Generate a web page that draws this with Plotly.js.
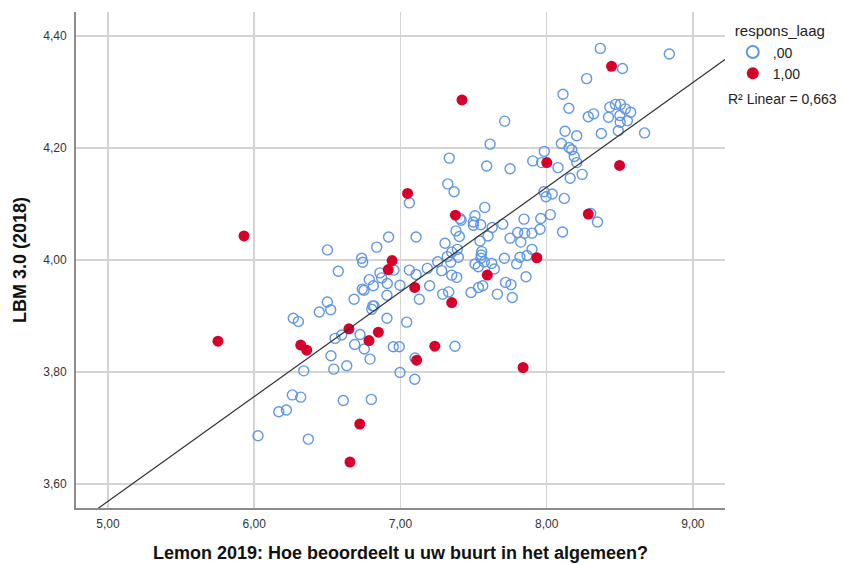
<!DOCTYPE html>
<html>
<head>
<meta charset="utf-8">
<script src="https://cdn.plot.ly/plotly-3.0.1.min.js"></script>
<style>html,body{margin:0;padding:0;background:#fff;}#chart{width:844px;height:565px;}</style>
</head>
<body>
<div id="chart"></div>
<script>
// respons_laag = ,00 (open circles)
const openX = [6.026,6.168,6.220,6.261,6.318,6.370,6.609,6.801,6.339,6.544,6.633,6.525,6.792,6.753,6.687,6.553,6.598,6.724,6.951,6.992,6.997,6.267,6.302,6.445,6.500,6.523,6.908,6.811,6.820,6.804,6.683,6.908,6.739,6.751,6.815,6.910,6.997,6.787,6.860,6.872,6.956,6.575,6.735,6.742,6.501,6.838,6.919,7.043,7.061,
7.373,7.100,7.098,7.107,7.061,7.107,7.184,7.282,7.351,7.385,7.200,7.129,7.289,7.330,7.255,7.344,7.321,7.396,7.351,7.389,7.305,7.380,7.403,7.408,7.415,7.324,7.367,7.334,7.510,7.499,7.499,7.549,7.577,7.627,7.700,7.599,7.544,7.556,7.553,7.551,7.574,7.510,7.533,7.624,7.642,7.711,7.795,7.818,7.866,7.900,7.750,7.823,7.802,7.850,7.900,7.955,7.845,7.960,8.025,8.109,7.859,7.483,7.534,7.563,7.663,7.719,7.756,7.765,7.590,7.750,7.905,7.966,7.984,8.078,7.982,7.996,8.038,8.121,7.713,7.613,8.348,8.302,
8.367,8.839,8.519,8.274,8.112,8.152,8.285,8.321,8.432,8.471,8.505,8.538,8.575,8.423,8.501,8.552,8.503,8.490,8.670,8.126,8.206,8.374,8.101,8.154,8.172,8.189,8.206,8.243,8.161];
const openY = [3.686,3.729,3.732,3.759,3.755,3.680,3.749,3.751,3.802,3.805,3.811,3.829,3.823,3.841,3.849,3.860,3.866,3.867,3.845,3.845,3.799,3.896,3.890,3.907,3.925,3.911,3.896,3.918,3.918,3.912,3.930,3.937,3.948,3.946,3.954,3.958,3.955,3.965,3.977,3.968,3.982,3.980,4.003,3.996,4.018,4.023,4.041,3.889,4.102,
3.846,3.825,3.787,4.041,3.982,3.974,3.985,3.981,3.973,3.969,3.954,3.930,3.939,3.943,3.997,3.996,4.006,4.005,4.014,4.019,4.030,4.052,4.042,4.074,4.071,4.136,4.122,4.182,4.079,4.068,4.062,4.063,4.094,4.058,4.064,4.043,4.034,4.015,4.009,4.003,3.997,3.993,3.988,3.994,3.984,4.003,3.993,4.005,4.008,4.019,4.039,4.032,4.049,4.048,4.048,4.055,4.073,4.074,4.081,4.050,3.970,3.942,3.951,3.954,3.939,3.960,3.956,3.933,4.168,4.163,4.177,4.174,4.194,4.165,4.122,4.113,4.118,4.110,4.248,4.207,4.068,4.083,
4.378,4.368,4.342,4.324,4.296,4.271,4.256,4.261,4.273,4.278,4.278,4.270,4.264,4.255,4.258,4.249,4.246,4.231,4.227,4.230,4.222,4.226,4.208,4.201,4.197,4.185,4.174,4.153,4.146];

// respons_laag = 1,00 (filled red)
const redX = [5.752,5.930,7.049,6.943,6.917,6.648,6.849,6.785,6.318,6.359,6.722,6.655,7.235,7.111,7.839,7.098,7.351,7.594,7.933,7.376,8.001,7.421,8.444,8.499,8.285];
const redY = [3.855,4.043,4.119,3.999,3.983,3.877,3.871,3.856,3.848,3.839,3.707,3.639,3.846,3.821,3.808,3.951,3.924,3.973,4.004,4.080,4.174,4.286,4.346,4.169,4.082];

// Linear fit (total)
const fitIntercept = 2.634;
const fitSlope = 0.187;
const rSquared = "0,663";

const groupNames = [",00", "1,00"];
const xTicks = [5, 6, 7, 8, 9];
const yTicks = [3.6, 3.8, 4.0, 4.2, 4.4];
const xTitle = "Lemon 2019: Hoe beoordeelt u uw buurt in het algemeen?";
const yTitle = "LBM 3.0 (2018)";
const legendTitle = "respons_laag";

const xRange = [4.781, 9.220];
const yRange = [3.557, 4.443];

const FONT = "Liberation Sans, Arial, sans-serif";

const traces = [
  {
    type: "scatter", mode: "markers", name: groupNames[0],
    x: openX, y: openY,
    marker: {symbol: "circle-open", size: 10, color: "#5f97e3", line: {width: 1.4, color: "#5f97e3"}},
    hoverinfo: "x+y"
  },
  {
    type: "scatter", mode: "markers", name: groupNames[1],
    x: redX, y: redY,
    marker: {symbol: "circle", size: 11, color: "#d6002a", line: {width: 0}},
    hoverinfo: "x+y"
  },
  {
    type: "scatter", mode: "lines", showlegend: false,
    x: xRange, y: xRange.map(v => fitIntercept + fitSlope * v),
    line: {color: "#333333", width: 1.2},
    hoverinfo: "skip"
  }
];

const layout = {
  width: 844, height: 565,
  margin: {l: 76, r: 119, t: 12, b: 57},
  paper_bgcolor: "#ffffff", plot_bgcolor: "#ffffff",
  separators: ", ",
  font: {family: FONT, size: 12, color: "#222222"},
  showlegend: true,
  legend: {
    x: 1.012, y: 0.99, xanchor: "left", yanchor: "top",
    title: {text: legendTitle, font: {size: 15, color: "#222222"}},
    font: {size: 14, color: "#222222"},
    itemsizing: "constant",
    tracegroupgap: 0,
    bgcolor: "rgba(0,0,0,0)"
  },
  xaxis: {
    range: xRange, tickvals: xTicks, tickformat: ".2f",
    showgrid: true, gridcolor: "#d4d4d4", gridwidth: 1.5,
    showline: true, linecolor: "#8c8c8c", linewidth: 2,
    zeroline: false, ticks: "", ticklabelstandoff: 4,
    tickfont: {size: 12, color: "#333333"},
    title: {text: "<b>" + xTitle + "</b>", font: {size: 18, color: "#111111"}, standoff: 16}
  },
  yaxis: {
    range: yRange, tickvals: yTicks, tickformat: ".2f",
    showgrid: true, gridcolor: "#d4d4d4", gridwidth: 1.5,
    showline: true, linecolor: "#8c8c8c", linewidth: 2,
    zeroline: false, ticks: "", ticklabelstandoff: 5,
    tickfont: {size: 12, color: "#333333"},
    title: {text: "<b>" + yTitle + "</b>", font: {size: 18, color: "#111111"}, standoff: 12}
  },
  annotations: [
    {
      xref: "paper", yref: "paper", x: 1.002, y: 0.825, xanchor: "left", yanchor: "middle",
      text: "R² Linear = " + rSquared, showarrow: false,
      font: {size: 14, color: "#222222"}
    }
  ]
};

Plotly.newPlot("chart", traces, layout, {displayModeBar: false, staticPlot: true});
</script>
</body>
</html>
